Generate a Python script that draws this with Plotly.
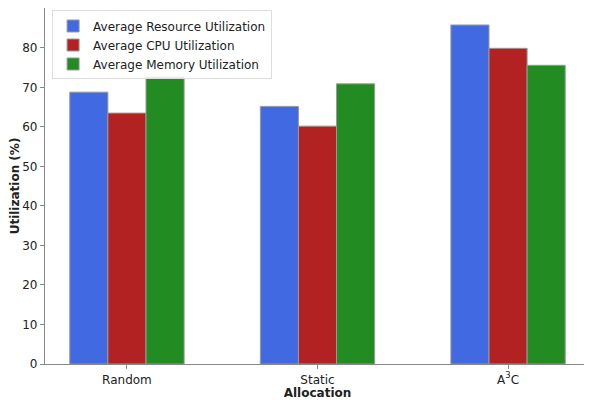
import plotly.graph_objects as go

categories = ["Random", "Static", "A<sup>3</sup>C"]
resource = [68.8, 65.2, 85.8]
cpu = [63.5, 60.2, 79.9]
memory = [72.6, 70.9, 75.6]
y_ticks = [0, 10, 20, 30, 40, 50, 60, 70, 80]

series = [
    ("Average Resource Utilization", resource, "#4169E1"),
    ("Average CPU Utilization", cpu, "#B22222"),
    ("Average Memory Utilization", memory, "#228B22"),
]

fig = go.Figure()
for name, vals, color in series:
    fig.add_trace(go.Bar(
        x=categories, y=vals, name=name,
        marker=dict(color=color, line=dict(color="#999999", width=1)),
    ))

font = "DejaVu Sans, sans-serif"
# page body has an 8px default margin, so the figure is shrunk to compensate
fig.update_layout(
    width=584, height=393,
    margin=dict(l=37, r=2, t=0, b=37, autoexpand=False),
    paper_bgcolor="white", plot_bgcolor="white",
    barmode="group", bargap=0.4, bargroupgap=0,
    font=dict(family=font, size=12, color="#222222"),
    showlegend=True,
    legend=dict(
        x=0.013, y=0.993, xanchor="left", yanchor="top",
        bgcolor="rgba(255,255,255,0.8)", bordercolor="#dddddd", borderwidth=1,
        font=dict(size=12, family=font, color="#222222"),
        tracegroupgap=0, itemwidth=30,
    ),
    xaxis=dict(
        range=[-0.43, 2.43], automargin=False,
        showline=True, linecolor="#888888", linewidth=1.2, mirror=True,
        ticks="outside", ticklen=4, tickcolor="#888888",
        showgrid=False,
        title=dict(text="<b>Allocation</b>", font=dict(size=12), standoff=1),
    ),
    yaxis=dict(
        range=[0, 90.1], tickvals=y_ticks, automargin=False,
        showline=True, linecolor="#888888", linewidth=1.2, mirror=True,
        ticks="outside", ticklen=4, tickcolor="#888888",
        showgrid=False, zeroline=False,
        title=dict(text="<b>Utilization (%)</b>", font=dict(size=12), standoff=6),
    ),
)

fig.write_html("out.html")
